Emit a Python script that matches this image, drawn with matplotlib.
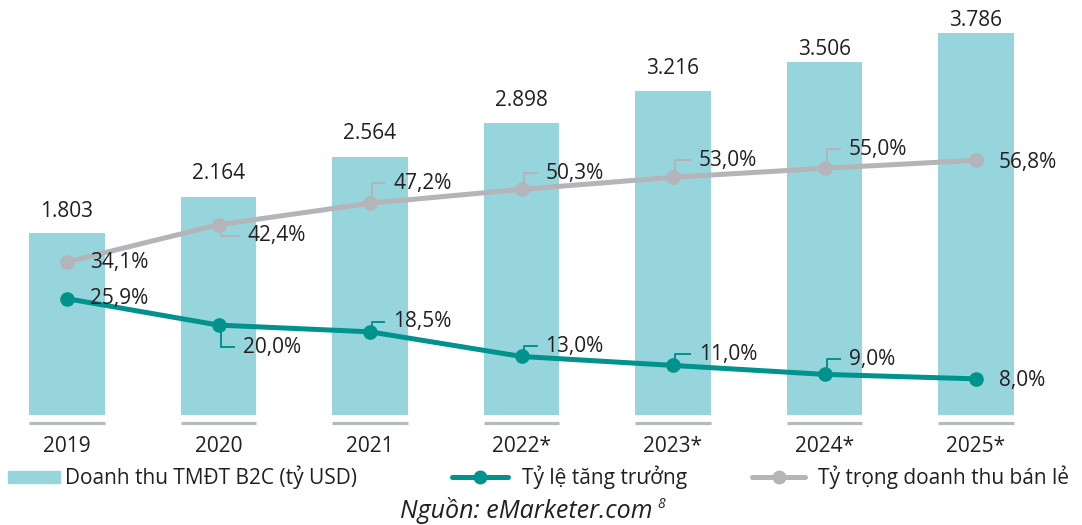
import matplotlib
matplotlib.use("Agg")
import matplotlib.pyplot as plt
import matplotlib.transforms as mtransforms
from matplotlib.patches import Rectangle
from matplotlib.lines import Line2D

years = ["2019", "2020", "2021", "2022*", "2023*", "2024*", "2025*"]
revenue = [1.803, 2.164, 2.564, 2.898, 3.216, 3.506, 3.786]
growth = [25.9, 20.0, 18.5, 13.0, 11.0, 9.0, 8.0]
share = [34.1, 42.4, 47.2, 50.3, 53.0, 55.0, 56.8]

legend_names = ["Doanh thu TMĐT B2C (tỷ USD)", "Tỷ lệ tăng trưởng", "Tỷ trọng doanh thu bán lẻ"]
source = "Nguồn: eMarketer.com"

# colours
c_bar = "#96d5dc"
c_teal = "#00928c"
c_gray = "#b4b4b9"
c_axis = "#b9babe"
c_text = "#231f20"

# label placement (pixels: dx right, dy down, leader direction)
share_pos = [(23, 1, None), (29, 11, "down"), (23, -20, "up"), (24, -16, "up"),
             (26, -17, "up"), (24, -19, "up"), (23, 2, None)]
growth_pos = [(23, 0, None), (24, 22, "down"), (23, -10, "up"), (24, -10, "up"),
              (26, -11, "up"), (24, -15, "up"), (23, 2, None)]
value_pad = [22, 23, 23, 22, 22, 12, 13]

plt.rcParams["font.family"] = ["Open Sans", "DejaVu Sans"]
FS = 15

W, H = 1082, 525
fig = plt.figure(figsize=(W / 100, H / 100), dpi=100)
bottom_px = 414.7
ax = fig.add_axes([0, (H - bottom_px) / H, 1, bottom_px / H])
ax2 = ax.twinx()

x = list(range(len(years)))
step = 151.5
ax.set_xlim(-67 / step, (W - 67) / step)
ax.set_ylim(0, bottom_px / 100.7)
ax2.set_ylim(0, bottom_px / 4.48)

ax.bar(x, revenue, width=0.5, color=c_bar, zorder=1)
ax.hlines([-8.5 / bottom_px] * len(x), [i - 0.25 for i in x], [i + 0.25 for i in x],
          transform=ax.get_xaxis_transform(), colors=c_axis, lw=2.3, clip_on=False)

for i, v in enumerate(revenue):
    ax.annotate(f"{v:.3f}", (i, v), xytext=(0, value_pad[i]), textcoords="offset pixels",
                ha="center", va="center", fontsize=FS, color=c_text)

ax.set_xticks(x)
ax.set_xticklabels(years, fontsize=FS, color=c_text)
ax.tick_params(axis="x", length=0, pad=15)
ax.set_yticks([])
ax2.set_yticks([])
for a in (ax, ax2):
    for s in a.spines.values():
        s.set_visible(False)
ax.patch.set_visible(False)

ax2.plot(x, share, color=c_gray, lw=3.6, marker="o", ms=9.5, solid_capstyle="round", zorder=3)
ax2.plot(x, growth, color=c_teal, lw=3.6, marker="o", ms=9.5, solid_capstyle="round", zorder=3)

ident = mtransforms.IdentityTransform()
for vals, pos, col in ((share, share_pos, c_gray), (growth, growth_pos, c_teal)):
    for i, v in enumerate(vals):
        dx, dy, lead = pos[i]
        ax2.annotate(f"{v:.1f}".replace(".", ",") + "%", (i, v), xytext=(dx, -dy),
                     textcoords="offset pixels", ha="left", va="center",
                     fontsize=FS, color=c_text, zorder=5)
        if lead:
            px, py = ax2.transData.transform((i, v))
            start = -7 if lead == "up" else 7
            xs = [px + 2, px + 2, px + dx - 9]
            ys = [py - start, py - dy, py - dy]
            fig.add_artist(Line2D(xs, ys, transform=ident, color=col, lw=1.4))

# legend
ly = H - 477
fig.add_artist(Rectangle((8, ly - 6), 52, 12, transform=ident, color=c_bar))
fig.text(65 / W, ly / H, legend_names[0], ha="left", va="center", fontsize=FS, color=c_text)
for x0, x1, col, tx, name in ((452, 508, c_teal, 522, legend_names[1]),
                              (752, 805, c_gray, 818, legend_names[2])):
    fig.add_artist(Line2D([x0, x1], [ly, ly], transform=ident, color=col, lw=3.6,
                          solid_capstyle="round"))
    fig.add_artist(Line2D([(x0 + x1) / 2], [ly], transform=ident, color=col, marker="o", ms=9))
    fig.text(tx / W, ly / H, name, ha="left", va="center", fontsize=FS, color=c_text)

src = fig.text(400 / W, (H - 510) / H, source, ha="left", va="center", fontsize=18,
               style="italic", color=c_text)
r = fig.canvas.get_renderer()
bb = src.get_window_extent(r)
fig.text((bb.x1 + 5) / W, (H - 504) / H, "8", ha="left", va="center", fontsize=10,
         style="italic", color=c_text)

fig.savefig("out.png", dpi=100)
